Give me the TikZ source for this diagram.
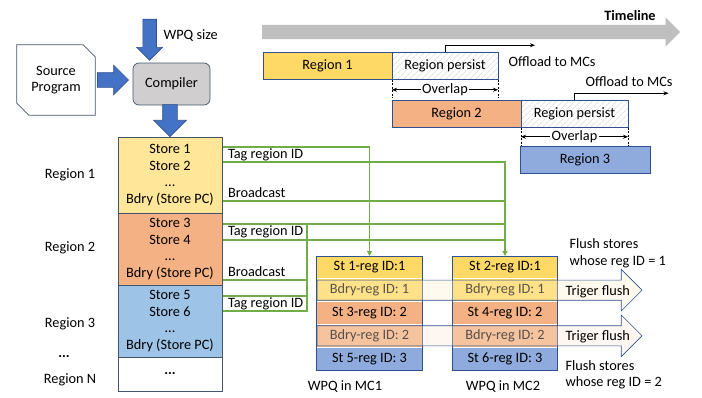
\documentclass[tikz,border=0pt]{standalone}
\usepackage{fontspec}
\setmainfont{Carlito}
\usetikzlibrary{positioning,calc,arrows.meta,shapes.arrows,patterns.meta}

\definecolor{edgeSlate}{HTML}{44546A}
\definecolor{edgeNavy}{HTML}{2F528F}
\definecolor{arrBlue}{HTML}{4472C4}
\definecolor{compGray}{HTML}{D0CECE}
\definecolor{tlGray}{HTML}{BFBFBF}
\definecolor{ylwDark}{HTML}{FFD966}
\definecolor{ylwCol}{HTML}{FFE699}
\definecolor{ylwLight}{HTML}{FFF2CC}
\definecolor{orgCol}{HTML}{F4B183}
\definecolor{orgLight}{HTML}{FBE5D6}
\definecolor{bluCol}{HTML}{9DC3E6}
\definecolor{bluDark}{HTML}{8FAADC}
\definecolor{grnLine}{HTML}{70AD47}

\begin{document}
\begin{tikzpicture}[x=1pt,y=-1pt,
    font=\fontsize{14.3}{16.5}\selectfont,
    blockArrow/.style={single arrow, draw=edgeNavy, fill=arrBlue, line width=0.6pt, minimum width=0pt},
    colBox/.style={rectangle, draw=edgeSlate, line width=0.7pt, minimum width=104pt, align=center, inner sep=0pt, outer sep=0pt},
    tlBox/.style={rectangle, draw=edgeNavy, line width=0.7pt, minimum height=27.5pt, inner sep=0pt, outer sep=0pt},
    persistBox/.style={tlBox, pattern={Lines[angle=45,distance=4pt,line width=0.5pt]}, pattern color=gray!35},
    wpqRow/.style={rectangle, draw=white, line width=0.8pt, minimum width=105.5pt, minimum height=22.8pt, inner sep=0pt, outer sep=0pt},
    flushArrow/.style={single arrow, draw=edgeNavy, line width=0.6pt, fill opacity=0.35, inner sep=9.75pt, single arrow head extend=10.75pt, minimum height=325pt},
    lbl/.style={inner xsep=5pt, inner ysep=0pt, outer sep=0pt, anchor=north west},
    gLine/.style={draw=grnLine, line width=1.1pt},
    gArrow/.style={gLine, -{Triangle[length=5pt,width=5pt]}},
    dimArrow/.style={{Stealth[length=5pt,width=4pt]}-{Stealth[length=5pt,width=4pt]}, line width=0.7pt},
    offArrow/.style={-{Stealth[length=5pt,width=4pt]}, line width=0.7pt},
    dimDash/.style={line width=0.6pt, dash pattern=on 2pt off 1.5pt}]

    \useasboundingbox (0,0) rectangle (702,397);

    % compiler flow
    \node[rectangle, minimum width=78pt, minimum height=70pt, align=center, inner sep=0pt] (src) at (56,80) {Source\\Program};
    \draw[edgeSlate, line width=0.7pt] (src.north west) -- ([xshift=-12pt]src.north east) -- ([yshift=-12pt]src.north east)
        -- (src.south east) -- ([xshift=12pt]src.south west) -- ([yshift=12pt]src.south west) -- cycle;
    \node[rectangle, rounded corners=6pt, draw=edgeSlate, fill=compGray, line width=0.7pt, minimum width=77pt, minimum height=42pt] (comp) at (171.5,84) {Compiler};
    \node[blockArrow, inner sep=7pt, single arrow head extend=7.5pt, minimum height=31pt, anchor=tail] (toComp) at ([xshift=2pt]src.east) {};
    \node[blockArrow, shape border rotate=270, inner sep=6.5pt, single arrow head extend=6pt, minimum height=41pt, anchor=tip] (wpqIn) at ($(comp.north west)+(17,-2)$) {};
    \node[anchor=west] (wpqSize) at (160,36) {WPQ size};

    % store column
    \node[colBox, fill=ylwCol, minimum height=76pt, anchor=north] (reg1) at (170,137) {Store 1\\Store 2\\...\\Bdry (Store PC)};
    \node[colBox, fill=orgCol, minimum height=72pt, below=0pt of reg1] (reg2) {Store 3\\Store 4\\...\\Bdry (Store PC)};
    \node[colBox, fill=bluCol, minimum height=72pt, below=0pt of reg2] (reg3) {Store 5\\Store 6\\...\\Bdry (Store PC)};
    \node[colBox, fill=white, minimum height=34pt, below=0pt of reg3] (regN) {\textbf{...}};
    \node[blockArrow, shape border rotate=270, inner sep=7pt, single arrow head extend=9pt, minimum height=32pt, anchor=tip] (toCol) at (reg1.north) {};

    \node (lab1) at (70,175) {Region 1};
    \node (lab2) at (70,248) {Region 2};
    \node (lab3) at (70,324) {Region 3};
    \node (labDots) at (64,357) {\textbf{...}};
    \node (labN) at (70,380) {Region N};

    % timeline
    \node[single arrow, fill=tlGray, draw=none, inner sep=7pt, single arrow head extend=7.5pt, minimum height=418pt, anchor=tail] (tlArrow) at (262,32) {};
    \node[font=\fontsize{14.3}{16.5}\selectfont\bfseries] (tlText) at (630,16) {Timeline};
    \node[tlBox, fill=ylwDark, minimum width=129pt] (tr1) at (327.5,66) {Region 1};
    \node[persistBox, minimum width=106pt, right=0pt of tr1] (tp1) {Region persist};
    \node[tlBox, fill=orgCol, minimum width=129pt, anchor=north west] (tr2) at ($(tp1.south west)+(0,20.5)$) {Region 2};
    \node[persistBox, minimum width=107pt, right=0pt of tr2] (tp2) {Region persist};
    \node[tlBox, fill=bluDark, minimum width=130pt, anchor=north west] (tr3) at ($(tp2.south west)+(-1,18.5)$) {Region 3};

    \draw[dimDash] (tp1.south west) -- ++(0,18) coordinate (ov1L);
    \draw[dimDash] (tp1.south east) -- ++(0,18) coordinate (ov1R);
    \draw[dimArrow] ($(tp1.south west)+(0,10)$) -- ($(tp1.south east)+(0,10)$) node[midway, fill=white, inner sep=1.5pt] (ov1) {Overlap};
    \draw[dimDash] (tp2.south west) -- ++(0,18) coordinate (ov2L);
    \draw[dimDash] (tp2.south east) -- ++(0,18) coordinate (ov2R);
    \draw[dimArrow] ($(tp2.south west)+(0,9)$) -- ($(tp2.south east)+(0,9)$) node[midway, fill=white, inner sep=1.5pt] (ov2) {Overlap};

    \node[anchor=west] (off1) at (505,62) {Offload to MCs};
    \draw[offArrow] (tp1.north) -- ++(0,-7) -- ++(90,0);
    \node[anchor=west] (off2) at (582,82) {Offload to MCs};
    \draw[offArrow] (tp2.north) -- ++(0,-7) -- ++(94,0);

    % WPQ in MC1
    \node[wpqRow, fill=ylwDark, anchor=north] (m1r1) at (369.5,256) {St 1-reg ID:1};
    \node[wpqRow, fill=ylwDark, below=0pt of m1r1] (m1r2) {Bdry-reg ID: 1};
    \node[wpqRow, fill=orgCol, below=0pt of m1r2] (m1r3) {St 3-reg ID: 2};
    \node[wpqRow, fill=orgCol, below=0pt of m1r3] (m1r4) {Bdry-reg ID: 2};
    \node[wpqRow, fill=bluDark, below=0pt of m1r4] (m1r5) {St 5-reg ID: 3};
    \draw[edgeNavy, line width=0.7pt] (m1r1.north west) rectangle (m1r5.south east);

    % WPQ in MC2
    \node[wpqRow, fill=ylwDark, anchor=north] (m2r1) at (505,256) {St 2-reg ID:1};
    \node[wpqRow, fill=ylwDark, below=0pt of m2r1] (m2r2) {Bdry-reg ID: 1};
    \node[wpqRow, fill=orgCol, below=0pt of m2r2] (m2r3) {St 4-reg ID: 2};
    \node[wpqRow, fill=orgCol, below=0pt of m2r3] (m2r4) {Bdry-reg ID: 2};
    \node[wpqRow, fill=bluDark, below=0pt of m2r4] (m2r5) {St 6-reg ID: 3};
    \draw[edgeNavy, line width=0.7pt] (m2r1.north west) rectangle (m2r5.south east);

    \node (mc1) at (345,387) {WPQ in MC1};
    \node (mc2) at (503,387) {WPQ in MC2};

    % flush arrows
    \node[flushArrow, fill=ylwLight, anchor=tail] (fa1) at (m1r2.west) {};
    \node[flushArrow, fill=orgLight, anchor=tail] (fa2) at (m1r4.west) {};
    \node[anchor=west] (tf1) at (562,292) {Triger flush};
    \node[anchor=west] (tf2) at (562,337) {Triger flush};
    \node[anchor=west, align=left] (fl1) at (566,253.5) {Flush stores\\whose reg ID = 1};
    \node[anchor=west, align=left] (fl2) at (562,375) {Flush stores\\whose reg ID = 2};

    % tags and broadcasts
    \node[lbl, minimum height=15pt] (tag1) at (223,147) {Tag region ID};
    \node[lbl, anchor=south west, inner ysep=3pt] (bc1) at (223,201) {Broadcast};
    \node[lbl, minimum height=16pt] (tag2) at (223,224) {Tag region ID};
    \node[lbl, anchor=south west, inner ysep=3pt] (bc2) at (223,280) {Broadcast};
    \node[lbl, minimum height=15pt] (tag3) at (223,296) {Tag region ID};
    \coordinate (vJoin) at (307,224);

    \draw[gArrow] (tag1.north west) -| (m1r1.north);
    \draw[gArrow] (tag1.south west) -| (m2r1.north);
    \draw[gLine] (bc1.south west) -- (bc1.south west -| m2r1.north);
    \draw[gLine] (tag2.north west) -- (tag2.north west -| m2r1.north);
    \draw[gLine] (tag2.south west) -- (tag2.south west -| m2r1.north);
    \draw[gLine] (bc2.south west) -- (bc2.south west -| vJoin);
    \draw[gLine] (tag3.north west) -- (tag3.north west -| vJoin);
    \draw[gLine] (tag3.south west) -| (vJoin);
\end{tikzpicture}
\end{document}
